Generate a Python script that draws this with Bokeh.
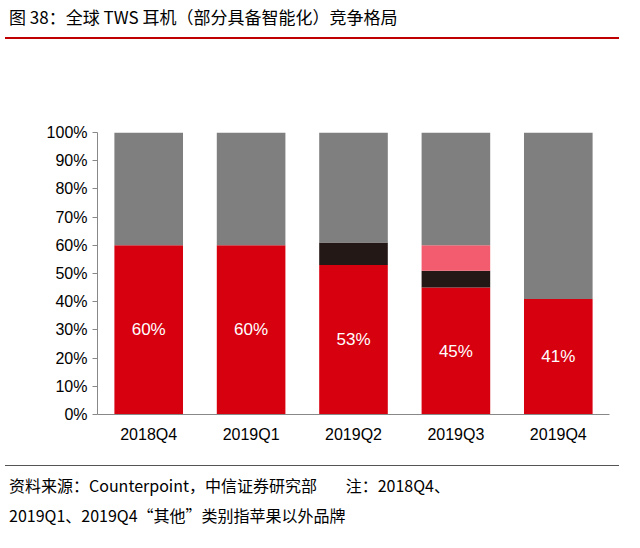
from bokeh.plotting import figure
from bokeh.models import ColumnDataSource, Div, Label, LabelSet, FixedTicker, CustomJSTickFormatter
from bokeh.layouts import column
from bokeh.embed import file_html
from bokeh.resources import INLINE

quarters = ["2018Q4", "2019Q1", "2019Q2", "2019Q3", "2019Q4"]
apple = [60, 60, 53, 45, 41]
samsung = [0, 0, 8, 6, 0]
xiaomi = [0, 0, 0, 9, 0]
others = [40, 40, 39, 40, 59]
series = ["苹果", "三星", "小米", "其他"]
colors = ["#D7000F", "#231815", "#F25C6E", "#7F7F7F"]

FONT = "Noto Sans CJK SC"
src = ColumnDataSource(dict(q=quarters, apple=apple, samsung=samsung, xiaomi=xiaomi, others=others,
                            lab=[f"{v}%" for v in apple], mid=[v / 2 for v in apple]))

title = Div(text="图 38：全球 TWS 耳机（部分具备智能化）竞争格局", width=624, height=34,
            styles={"font-family": FONT, "font-size": "17px", "color": "#000",
                    "border-bottom": "2px solid #C00000", "width": "614px", "padding-left": "4px"})

H = 403
p = figure(x_range=quarters, y_range=(0, 100), width=624, height=H, output_backend="svg",
           toolbar_location=None, min_border_left=97, min_border_right=15, min_border_top=86,
           min_border_bottom=35)
p.vbar_stack(["apple", "samsung", "xiaomi", "others"], x="q", width=0.67, color=colors,
             source=src, line_color=None)
p.add_layout(LabelSet(x="q", y="mid", text="lab", source=src, text_color="white",
                      text_font_size="17px", text_align="center", text_baseline="middle"))
legx = [193, 271, 344, 411]
for s, c, x in zip(series, colors, legx):
    p.add_layout(Label(x=x, y=H - 37, x_units="screen", y_units="screen", text="■", text_color=c,
                       text_font_size="15px", text_baseline="middle"))
    p.add_layout(Label(x=x + 15, y=H - 37, x_units="screen", y_units="screen", text=s,
                       text_font=FONT, text_font_size="17px", text_baseline="middle"))
p.xgrid.grid_line_color = None
p.ygrid.grid_line_color = None
p.outline_line_color = None
p.yaxis.ticker = FixedTicker(ticks=list(range(0, 101, 10)))
p.yaxis.formatter = CustomJSTickFormatter(code="return tick + '%';")
for ax in (p.xaxis, p.yaxis):
    ax.major_label_text_font_size = "16px"
    ax.major_label_text_color = "#000"
    ax.axis_line_color = "#888"
    ax.major_tick_line_color = "#888"
    ax.minor_tick_line_color = None
p.xaxis.major_tick_line_color = None
p.yaxis.major_tick_in = 0
p.yaxis.major_tick_out = 5

footer = Div(text="资料来源：Counterpoint，中信证券研究部&nbsp;&nbsp;&nbsp;&nbsp;&nbsp;&nbsp;&nbsp;&nbsp;注：2018Q4、<br>2019Q1、2019Q4“其他”类别指苹果以外品牌",
             width=624, height=75,
             styles={"font-family": FONT, "font-size": "16px", "color": "#000", "line-height": "30px",
                     "border-top": "1px solid #555", "width": "614px", "padding-top": "4px",
                     "padding-left": "4px", "margin-top": "14px"})

layout = column(title, p, footer, spacing=2)
open("out.html", "w").write(file_html(layout, INLINE))
